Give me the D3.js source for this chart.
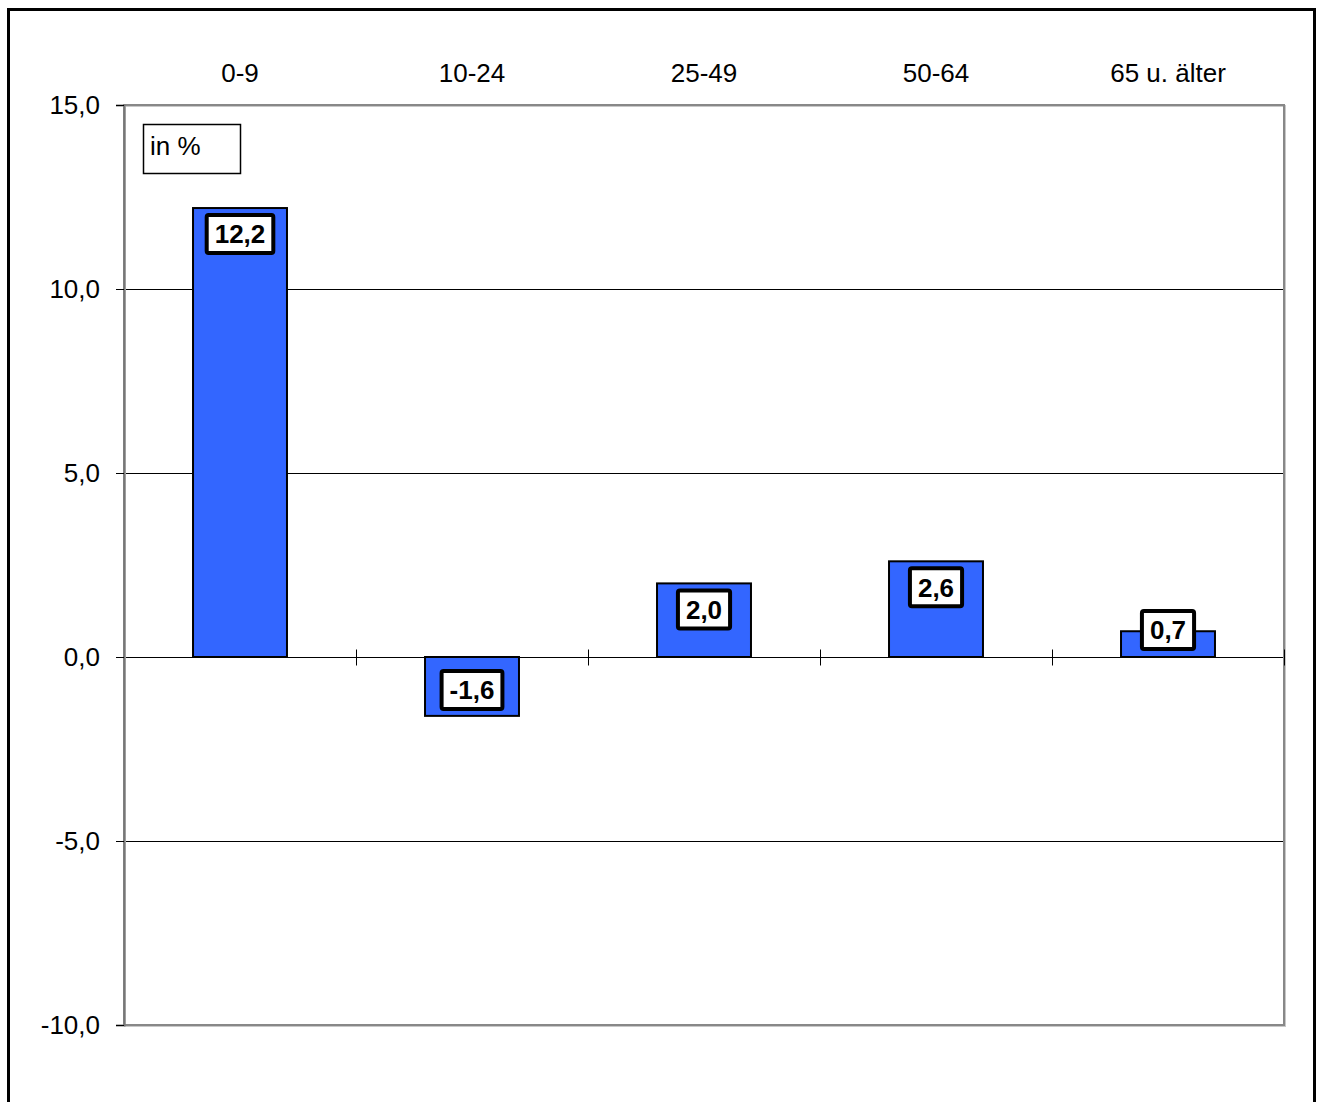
<!DOCTYPE html>
<html>
<head>
<meta charset="utf-8">
<script src="https://cdn.jsdelivr.net/npm/d3@7"></script>
<style>
  body { margin: 0; background: #fff; }
  text { font-family: Arial, "Liberation Sans", sans-serif; }
</style>
</head>
<body>
<div id="chart"></div>
<script>
// age groups and change in %
const categories = ['0-9', '10-24', '25-49', '50-64', '65 u. älter'];
const values     = [12.2, -1.6, 2.0, 2.6, 0.7];
const yTicks     = [-10, -5, 0, 5, 10, 15];
const unitLabel  = 'in %';

const W = 1317, H = 1102;
const plot = {left: 124, right: 1284, top: 105, bottom: 1025};
const FS = 26;

const de = d3.formatLocale({decimal: ',', thousands: '.', grouping: [3], currency: ['', ' €'], minus: '-'});
const fmt = de.format('.1f');

const svg = d3.select('#chart').append('svg')
    .attr('width', W)
    .attr('height', H);

// outer frame (bottom edge runs off the picture)
svg.append('rect')
    .attr('x', 8.5).attr('y', 9.5)
    .attr('width', 1306).attr('height', 1110)
    .attr('fill', 'none').attr('stroke', '#000').attr('stroke-width', 3);

const x = d3.scaleBand().domain(categories).range([plot.left, plot.right]).padding(0);
const y = d3.scaleLinear().domain([-10, 15]).range([plot.bottom, plot.top]);
const barW = x.bandwidth() * 0.405;

// gridlines (inner ticks only)
svg.append('g')
  .selectAll('line').data(yTicks.filter(d => d > -10 && d < 15))
  .join('line')
    .attr('x1', plot.left).attr('x2', plot.right)
    .attr('y1', d => Math.round(y(d)) + 0.5).attr('y2', d => Math.round(y(d)) + 0.5)
    .attr('stroke', '#000').attr('stroke-width', 1);

// plot border
svg.append('rect')
    .attr('x', plot.left + 1).attr('y', plot.top + 1)
    .attr('width', plot.right - plot.left).attr('height', plot.bottom - plot.top)
    .attr('fill', 'none').attr('stroke', '#c8c8c8').attr('stroke-width', 2);
svg.append('rect')
    .attr('x', plot.left).attr('y', plot.top)
    .attr('width', plot.right - plot.left).attr('height', plot.bottom - plot.top)
    .attr('fill', 'none').attr('stroke', '#888').attr('stroke-width', 2);

// y axis
const yAxis = svg.append('g')
    .attr('transform', `translate(${plot.left},0)`)
    .call(d3.axisLeft(y).tickValues(yTicks).tickSize(8).tickPadding(16).tickFormat(fmt));
yAxis.select('.domain').attr('stroke', '#777').attr('stroke-width', 2);
yAxis.selectAll('.tick line').attr('stroke', '#000');
yAxis.selectAll('.tick text')
    .attr('font-size', FS).attr('fill', '#000')
    .attr('font-family', 'Arial, "Liberation Sans", sans-serif');

// category labels on top
svg.append('g')
  .selectAll('text').data(categories)
  .join('text')
    .attr('x', d => x(d) + x.bandwidth() / 2)
    .attr('y', 82)
    .attr('text-anchor', 'middle')
    .attr('font-size', FS)
    .text(d => d);

// small ticks along the zero line at category boundaries
const y0 = Math.round(y(0)) + 0.5;
svg.append('g')
  .selectAll('line').data(categories.slice(1).map(c => x(c)).concat([plot.right]))
  .join('line')
    .attr('x1', d => Math.round(d) + 0.5).attr('x2', d => Math.round(d) + 0.5)
    .attr('y1', y0 - 8).attr('y2', y0 + 8)
    .attr('stroke', '#000').attr('stroke-width', 1);

// bars
svg.append('g')
  .selectAll('rect').data(values)
  .join('rect')
    .attr('x', (d, i) => x(categories[i]) + (x.bandwidth() - barW) / 2)
    .attr('y', d => y(Math.max(0, d)))
    .attr('width', barW)
    .attr('height', d => Math.abs(y(d) - y(0)))
    .attr('fill', '#3366ff')
    .attr('stroke', '#000').attr('stroke-width', 2);

// value labels: white boxes with heavy border, inside end of bar
const labels = svg.append('g')
  .selectAll('g').data(values)
  .join('g');

labels.each(function(d, i) {
  const g = d3.select(this);
  const cx = x(categories[i]) + x.bandwidth() / 2;
  const boxH = 38;
  let cy;
  if (d >= 0) {
    cy = y(d) + 26;
    cy = Math.min(cy, y(0) - 6 - (boxH + 4) / 2);
  } else {
    cy = y(d) - 26;
  }
  const t = g.append('text')
      .attr('x', cx).attr('y', cy)
      .attr('dy', '0.36em')
      .attr('text-anchor', 'middle')
      .attr('font-size', FS).attr('font-weight', 'bold')
      .text(fmt(d));
  const tw = t.node().getComputedTextLength();
  const boxW = tw + 16;
  g.insert('rect', 'text')
      .attr('x', cx - boxW / 2).attr('y', cy - boxH / 2)
      .attr('width', boxW).attr('height', boxH)
      .attr('rx', 2)
      .attr('fill', '#fff').attr('stroke', '#000').attr('stroke-width', 4);
});

// unit box
svg.append('rect')
    .attr('x', 143.5).attr('y', 124.5)
    .attr('width', 97).attr('height', 49)
    .attr('fill', '#fff').attr('stroke', '#000').attr('stroke-width', 1.5);
svg.append('text')
    .attr('x', 150).attr('y', 155)
    .attr('font-size', FS)
    .text(unitLabel);
</script>
</body>
</html>
